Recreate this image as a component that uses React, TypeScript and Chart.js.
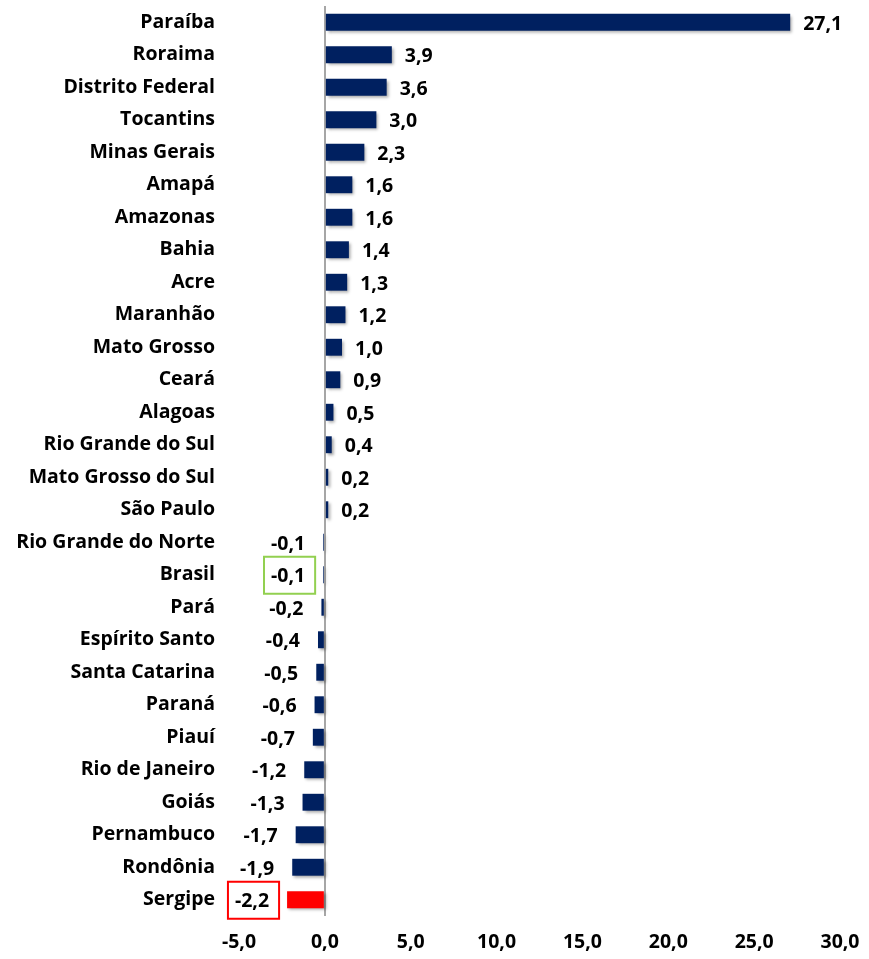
import React, { useEffect, useRef } from "react";
import { Chart, registerables } from "chart.js";

Chart.register(...registerables);

const categories = [
  "Paraíba", "Roraima", "Distrito Federal", "Tocantins", "Minas Gerais", "Amapá", "Amazonas",
  "Bahia", "Acre", "Maranhão", "Mato Grosso", "Ceará", "Alagoas", "Rio Grande do Sul",
  "Mato Grosso do Sul", "São Paulo", "Rio Grande do Norte", "Brasil", "Pará", "Espírito Santo",
  "Santa Catarina", "Paraná", "Piauí", "Rio de Janeiro", "Goiás", "Pernambuco", "Rondônia", "Sergipe",
];
const values = [
  27.1, 3.9, 3.6, 3.0, 2.3, 1.6, 1.6, 1.4, 1.3, 1.2, 1.0, 0.9, 0.5, 0.4, 0.2, 0.2,
  -0.1, -0.1, -0.2, -0.4, -0.5, -0.6, -0.7, -1.2, -1.3, -1.7, -1.9, -2.2,
];
const highlightRed = ["Sergipe"];
const highlightGreen = ["Brasil"];
const xMin = -5;
const xMax = 30;
const xStep = 5;

const FONT = "'Open Sans', sans-serif";
const FSIZE = 19.5;
const fmt = (v: number) => v.toFixed(1).replace(".", ",");

const labelPlugin = {
  id: "valueLabels",
  beforeDatasetsDraw(chart: any) {
    const ctx = chart.ctx;
    ctx.save();
    ctx.shadowColor = "rgba(0,0,0,0.35)";
    ctx.shadowBlur = 3;
    ctx.shadowOffsetX = 2;
    ctx.shadowOffsetY = 2;
  },
  afterDatasetsDraw(chart: any) {
    const ctx = chart.ctx;
    ctx.restore();
    const meta = chart.getDatasetMeta(0);
    ctx.save();
    ctx.font = `bold ${FSIZE}px ${FONT}`;
    ctx.fillStyle = "#000";
    ctx.textBaseline = "middle";
    meta.data.forEach((bar: any, i: number) => {
      const v = values[i];
      const txt = fmt(v);
      const y = bar.y + 2;
      let x: number;
      if (v >= 0) {
        ctx.textAlign = "left";
        x = bar.x + 13;
      } else {
        ctx.textAlign = "right";
        x = bar.x - 18;
      }
      ctx.fillText(txt, x, y);
      const cat = categories[i];
      let boxColor: string | null = null;
      if (highlightRed.includes(cat)) boxColor = "#ff0000";
      if (highlightGreen.includes(cat)) boxColor = "#92d050";
      if (boxColor) {
        const w = ctx.measureText(txt).width;
        const left = v >= 0 ? x - 8 : x - w - 7;
        const right = v >= 0 ? x + w + 10 : x + 10;
        ctx.strokeStyle = boxColor;
        ctx.lineWidth = 2;
        ctx.strokeRect(left, bar.y - 18, right - left, 37);
      }
    });
    ctx.restore();
  },
};

export default function App() {
  const ref = useRef<HTMLCanvasElement>(null);
  useEffect(() => {
    document.body.style.margin = "0";
    const chart = new Chart(ref.current!, {
      type: "bar",
      data: {
        labels: categories,
        datasets: [
          {
            data: values,
            backgroundColor: categories.map((c) => (highlightRed.includes(c) ? "#ff0000" : "#002060")),
            barPercentage: 0.52,
            categoryPercentage: 1,
            borderWidth: 0,
          },
        ],
      },
      options: {
        indexAxis: "y",
        animation: false,
        responsive: false,
        layout: { padding: { top: 6, right: 29, left: 0, bottom: 0 } },
        plugins: { legend: { display: false }, tooltip: { enabled: false } },
        scales: {
          x: {
            min: xMin,
            max: xMax,
            border: { display: false },
            grid: {
              drawTicks: false,
              color: (c: any) => (c.tick && c.tick.value === 0 ? "#a6a6a6" : "transparent"),
              lineWidth: 2,
            },
            afterFit: (s: any) => {
              s.height = 43;
              s.paddingLeft = 0;
              s.paddingRight = 0;
            },
            ticks: {
              stepSize: xStep,
              padding: 15,
              maxRotation: 0,
              color: "#000",
              font: { family: FONT, size: FSIZE, weight: "bold" },
              callback: (v: any) => fmt(Number(v)),
            },
          },
          y: {
            border: { display: false },
            grid: { display: false, drawTicks: false },
            afterFit: (s: any) => {
              s.width = 239;
              s.paddingTop = 0;
              s.paddingBottom = 0;
            },
            ticks: {
              padding: 24,
              color: "#000",
              autoSkip: false,
              font: { family: FONT, size: FSIZE, weight: "bold" },
            },
          },
        },
      },
      plugins: [labelPlugin],
    });
    return () => chart.destroy();
  }, []);
  return <canvas ref={ref} width={869} height={959} style={{ display: "block" }} />;
}
